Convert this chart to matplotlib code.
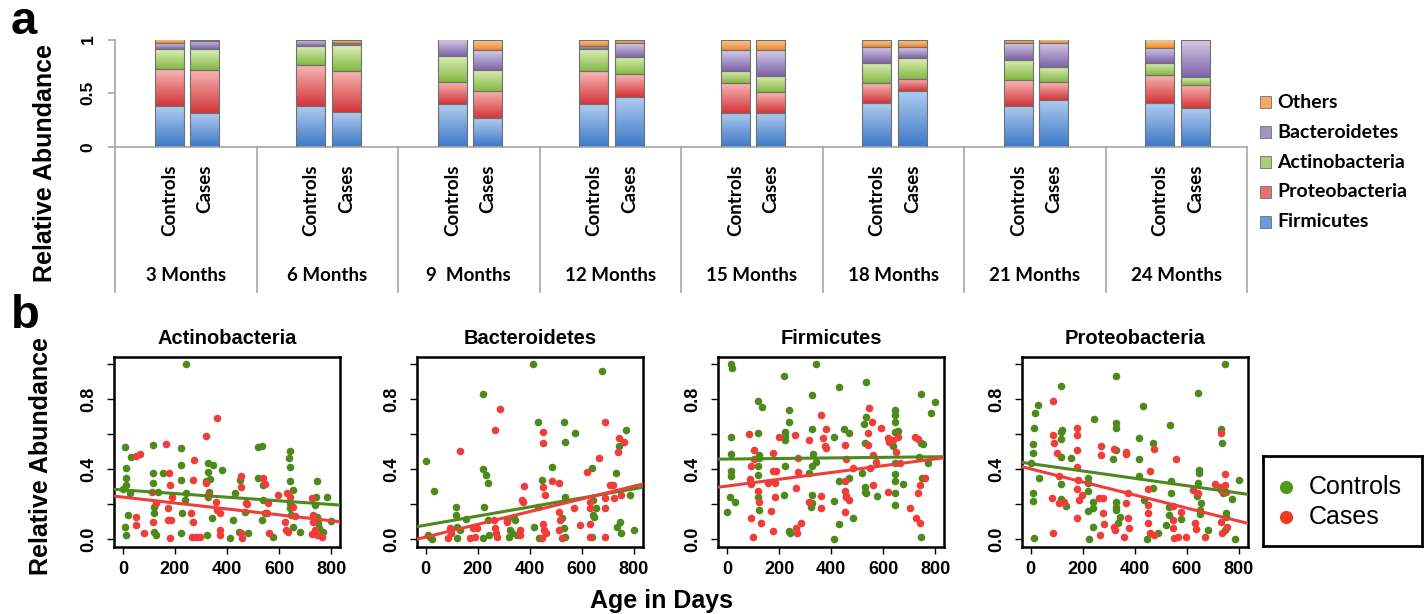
import numpy as np
import matplotlib
matplotlib.use("Agg")
import matplotlib.pyplot as plt
from matplotlib.colors import LinearSegmentedColormap
from matplotlib.patches import Rectangle

plt.rcParams["font.family"] = ["Liberation Sans", "DejaVu Sans"]

# ---------------- panel a data ----------------
months = ["3 Months", "6 Months", "9  Months", "12 Months",
          "15 Months", "18 Months", "21 Months", "24 Months"]
groups = ["Controls", "Cases"]
# order per month: Controls, Cases
firmicutes = [0.38, 0.31, 0.38, 0.32, 0.40, 0.265, 0.40, 0.465,
              0.318, 0.318, 0.405, 0.515, 0.383, 0.44, 0.405, 0.36]
proteobacteria = [0.345, 0.405, 0.38, 0.39, 0.20, 0.255, 0.305, 0.21,
                  0.272, 0.192, 0.185, 0.12, 0.237, 0.16, 0.265, 0.22]
actinobacteria = [0.185, 0.195, 0.18, 0.24, 0.25, 0.20, 0.205, 0.165,
                  0.115, 0.15, 0.19, 0.195, 0.19, 0.14, 0.115, 0.07]
bacteroidetes = [0.055, 0.08, 0.055, 0.02, 0.15, 0.18, 0.03, 0.13,
                 0.195, 0.24, 0.15, 0.10, 0.16, 0.225, 0.14, 0.35]
others = [0.035, 0.01, 0.005, 0.03, 0.0, 0.10, 0.06, 0.03,
          0.10, 0.10, 0.07, 0.07, 0.03, 0.035, 0.075, 0.0]

# ---------------- panel b data (day, relative abundance) ----------------
act_ctrl_day = [10, 13, 13, 13, 0, 32, 26, 10, 13, 19, 116, 116, 116, 118, 118, 118, 126, 135, 154,
                225, 225, 225, 229, 225, 241, 241, 238, 321, 327, 327, 336, 331, 327, 324, 347, 344,
                379, 411, 424, 430, 449, 447, 470, 482, 520, 535, 520, 539, 539, 546, 535, 578,
                642, 639, 642, 642, 655, 642, 642, 644, 655, 680, 745, 742, 738, 745, 751, 755,
                783, 770, 800]
act_ctrl_val = [.524, .406, .349, .31, .286, .469, .267, .072, .025, .139, .539, .377, .32, .187, .149,
                .044, .025, .272, .381, .52, .425, .339, .152, .034, 1.0, .267, .225, .33, .387, .434,
                .343, .272, .244, .025, .425, .12, .396, .006, .11, .263, .339, .044, .158, .034,
                .524, .53, .349, .31, .225, .149, .11, .011, .505, .463, .415, .33, .282, .21, .177,
                .139, .072, .044, .33, .24, .196, .13, .091, .063, .244, .044, .107]
act_case_day = [51, 64, 51, 51, 80, 113, 116, 128, 167, 177, 180, 173, 173, 180, 190, 186, 272, 270,
                263, 270, 267, 282, 295, 321, 321, 327, 360, 357, 362, 372, 372, 372, 452, 452, 452,
                456, 472, 478, 539, 546, 559, 552, 562, 594, 623, 627, 629, 642, 655, 661, 633, 725,
                732, 732, 725, 745, 764, 738]
act_case_val = [.476, .488, .13, .082, .034, .272, .101, .206, .545, .381, .31, .177, .11, .006, .244,
                .11, .45, .339, .149, .101, .015, .015, .011, .59, .32, .253, .691, .215, .168, .149,
                .053, .025, .362, .30, .034, .006, .206, .202, .349, .316, .206, .149, .034, .253,
                .101, .053, .267, .244, .187, .133, .044, .234, .139, .101, .029, .025, .011, .053]

bac_ctrl_day = [0, 32, 17, 23, 10, 117, 117, 119, 119, 132, 155, 220, 222, 225, 234, 239, 222, 239,
                242, 312, 325, 331, 338, 344, 351, 322, 412, 415, 430, 430, 434, 447, 485, 533, 537,
                537, 524, 533, 537, 575, 639, 642, 642, 646, 639, 655, 678, 733, 742, 745, 736, 749,
                770, 785, 800]
bac_ctrl_val = [.448, .278, .015, .0, .025, .187, .139, .072, .006, .053, .116, .83, .402, .187, .368,
                .32, .006, .11, .025, .11, .053, .034, .12, .11, .025, .015, 1.0, .072, .667, .183,
                .006, .339, .415, .667, .558, .244, .12, .063, .015, .606, .406, .225, .139, .13,
                .011, .177, .958, .377, .53, .101, .072, .034, .625, .253, .053]
bac_case_day = [94, 87, 96, 132, 184, 196, 171, 190, 267, 286, 261, 267, 271, 273, 312, 372, 379, 376,
                361, 363, 453, 453, 460, 451, 451, 456, 464, 447, 485, 511, 511, 517, 511, 524, 569,
                595, 620, 633, 630, 633, 633, 665, 691, 708, 721, 691, 691, 691, 738, 742, 761, 751,
                725]
bac_case_val = [.063, .006, .034, .505, .067, .067, .006, .015, .625, .745, .11, .063, .034, .015, .101,
                .225, .307, .215, .053, .025, .615, .549, .253, .301, .088, .053, .034, .006, .33, .32,
                .158, .11, .053, .006, .177, .082, .387, .177, .215, .088, .011, .463, .672, .31, .31,
                .177, .234, .011, .501, .577, .558, .253, .234]

fir_ctrl_day = [13, 18, 15, 15, 15, 15, 12, 32, 0, 118, 134, 118, 122, 122, 118, 118, 118, 122, 220,
                239, 239, 224, 224, 224, 224, 220, 238, 241, 326, 342, 326, 329, 326, 316, 326, 326,
                322, 342, 431, 449, 412, 467, 431, 412, 429, 412, 483, 467, 534, 534, 524, 528, 518,
                529, 529, 534, 574, 643, 643, 643, 643, 636, 643, 646, 643, 643, 643, 655, 677, 745,
                745, 751, 736, 749, 745, 770, 781, 797]
fir_ctrl_val = [1.0, .977, .583, .488, .392, .362, .244, .215, .158, .792, .754, .606, .482, .463, .421,
                .368, .244, .168, .93, .739, .669, .61, .587, .568, .421, .253, .05, .034, .825, 1.0,
                .63, .488, .421, .377, .253, .206, .183, .444, .867, .629, .583, .606, .33, .221, .088,
                .0, .12, .352, .897, .697, .659, .552, .377, .301, .272, .263, .248, .739, .71, .672,
                .615, .53, .434, .373, .333, .263, .196, .619, .314, .829, .549, .545, .472, .352,
                .015, .438, .72, .781]
fir_case_day = [83, 92, 88, 92, 92, 99, 105, 105, 118, 122, 131, 156, 169, 175, 178, 188, 182, 182, 178,
                198, 259, 271, 271, 265, 265, 268, 284, 316, 316, 361, 367, 380, 374, 378, 361, 361,
                454, 457, 451, 451, 457, 457, 467, 454, 485, 544, 540, 557, 560, 540, 547, 560, 572,
                591, 617, 623, 636, 617, 655, 649, 662, 703, 723, 732, 726, 732, 742, 742, 759]
fir_case_val = [.602, .419, .345, .314, .12, .015, .507, .457, .278, .215, .095, .324, .164, .491, .392,
                .392, .324, .244, .05, .583, .596, .463, .383, .291, .067, .034, .095, .568, .215, .71,
                .577, .629, .53, .52, .248, .177, .539, .457, .33, .278, .248, .244, .225, .158, .406,
                .752, .606, .667, .482, .539, .406, .31, .444, .634, .577, .558, .564, .272, .583,
                .501, .438, .177, .583, .571, .12, .263, .095, .31, .349]

pro_ctrl_day = [0, 10, 10, 10, 10, 13, 19, 30, 32, 15, 116, 116, 116, 116, 120, 118, 118, 135, 154,
                221, 221, 221, 221, 225, 242, 241, 241, 241, 328, 328, 328, 315, 328, 328, 328, 328,
                344, 334, 415, 415, 415, 431, 435, 448, 469, 469, 489, 534, 540, 540, 531, 531, 521,
                576, 643, 646, 646, 643, 640, 656, 649, 649, 682, 730, 735, 740, 748, 752, 752, 746,
                772, 785, 800]
pro_ctrl_val = [.434, .267, .221, .491, .545, .634, .72, .768, .349, .01, .876, .615, .571, .469, .625,
                .316, .229, .19, .463, .349, .324, .278, .164, .002, .686, .215, .177, .072, .933,
                .663, .634, .457, .51, .215, .187, .168, .13, .091, .581, .461, .362, .758, .225, .0,
                .549, .291, .034, .653, .33, .263, .187, .139, .082, .114, .834, .396, .377, .324,
                .248, .21, .168, .143, .053, .629, .549, .267, 1.0, .149, .13, .053, .23, .0, .339]
pro_case_day = [84, 87, 87, 90, 87, 100, 109, 109, 129, 180, 180, 180, 177, 183, 177, 177, 186, 199,
                264, 270, 270, 277, 280, 267, 283, 322, 322, 325, 367, 367, 367, 373, 376, 360, 379,
                457, 473, 453, 453, 453, 453, 457, 473, 560, 547, 547, 547, 550, 566, 576, 598, 624,
                630, 637, 643, 669, 707, 727, 730, 733, 730, 735, 746, 746, 752, 756]
pro_case_val = [.238, .787, .596, .552, .034, .495, .362, .21, .215, .634, .596, .51, .41, .339, .286,
                .12, .225, .253, .234, .53, .482, .234, .149, .025, .088, .514, .072, .053, .501, .488,
                .206, .263, .12, .011, .063, .392, .514, .286, .196, .149, .095, .034, .025, .457, .19,
                .11, .067, .006, .015, .158, .015, .282, .095, .057, .267, .011, .314, .301, .606,
                .282, .101, .038, .373, .31, .272, .072]

# fitted trend lines: value at day 0 and day 800
act_fit = [[0.282, 0.199], [0.241, 0.106]]
bac_fit = [[0.081, 0.288], [0.013, 0.303]]
fir_fit = [[0.458, 0.471], [0.304, 0.459]]
pro_fit = [[0.432, 0.264], [0.402, 0.104]]

W, H = 1427, 614


def rect(l, t, r, b):
    return [l / W, 1 - b / H, (r - l) / W, (b - t) / H]


fig = plt.figure(figsize=(W / 100, H / 100), dpi=100)

# ---------------- panel a ----------------
phyla = ["Firmicutes", "Proteobacteria", "Actinobacteria", "Bacteroidetes", "Others"]
phyla_vals = [firmicutes, proteobacteria, actinobacteria, bacteroidetes, others]
grad_cols = [("#3C79C6", "#AFCBF0"), ("#D3363A", "#F7B7B5"), ("#86B843", "#DCEFB7"),
             ("#7E64A8", "#D6CCE8"), ("#EF8A2E", "#FBD0A2")]
mid_cols = ["#6A9BDB", "#E6706E", "#A9CF72", "#A491C6", "#F5A862"]
edge = "#707070"
grey = "#A6A6A6"

ax = fig.add_axes(rect(115, 39.5, 1247, 146.7))
pos = []
for i in range(len(months)):
    pos += [i + 0.385, i + 0.636]
pos = np.array(pos)
w = 0.205
bottom = np.zeros(len(pos))
grad = np.linspace(0, 1, 64).reshape(-1, 1)
for name, vals, (c0, c1) in zip(phyla, phyla_vals, grad_cols):
    vals = np.array(vals)
    cmap = LinearSegmentedColormap.from_list(name, [c0, c1])
    for x, b, h in zip(pos, bottom, vals):
        if h <= 0:
            continue
        ax.imshow(grad, extent=(x - w / 2, x + w / 2, b, b + h), origin="lower",
                  cmap=cmap, aspect="auto", interpolation="bilinear", zorder=2)
    ax.bar(pos, np.where(vals > 0, vals, np.nan), w, bottom=bottom, fill=False,
           edgecolor=edge, linewidth=0.8, zorder=3)
    bottom += vals

ax.set_xlim(0, len(months))
ax.set_ylim(0, 1)
for s in ["top", "right"]:
    ax.spines[s].set_visible(False)
for s in ["left", "bottom"]:
    ax.spines[s].set_color(grey)
    ax.spines[s].set_linewidth(1.2)
ax.set_xticks([])
ax.set_yticks([0, 0.5, 1])
ax.set_yticklabels(["0", "0.5", "1"], rotation=90, va="center", fontsize=12.5, fontweight="bold")
ax.tick_params(axis="y", color=grey, length=5, width=1.2, pad=9)

for i in range(len(months) + 1):
    ax.plot([i, i], [0, -1.355], color=grey, lw=1.2, clip_on=False)
for i, m in enumerate(months):
    for k, g in enumerate(groups):
        ax.text(pos[2 * i + k], -0.165, g, rotation=90, ha="center", va="top",
                fontsize=13.5, fontweight="bold", family=["Lato", "DejaVu Sans"])
    ax.text(i + 0.5, -1.205, m, ha="center", va="center", fontsize=13.5,
            fontweight="bold", family=["Lato", "DejaVu Sans"])

# legend a
for j, (name, col) in enumerate(zip(phyla[::-1], mid_cols[::-1])):
    yc = 102 + 30 * j
    fig.patches.append(Rectangle((1260 / W, 1 - (yc + 6) / H), 11 / W, 12 / H,
                                 transform=fig.transFigure, facecolor=col,
                                 edgecolor=edge, linewidth=0.6))
    fig.text(1277 / W, 1 - yc / H, name, ha="left", va="center", fontsize=14,
             fontweight="bold", family=["Lato", "DejaVu Sans"])

fig.text(45 / W, 1 - 163 / H, "Relative Abundance", rotation=90, ha="center",
         va="center", fontsize=18, fontweight="bold")
fig.text(24 / W, 1 - 22 / H, "a", ha="center", va="center", fontsize=34, fontweight="bold")

# ---------------- panel b ----------------
green = "#4D8A1C"
red = "#EF3E3A"
panels = [
    ("Actinobacteria", act_ctrl_day, act_ctrl_val, act_case_day, act_case_val, act_fit),
    ("Bacteroidetes", bac_ctrl_day, bac_ctrl_val, bac_case_day, bac_case_val, bac_fit),
    ("Firmicutes", fir_ctrl_day, fir_ctrl_val, fir_case_day, fir_case_val, fir_fit),
    ("Proteobacteria", pro_ctrl_day, pro_ctrl_val, pro_case_day, pro_case_val, pro_fit),
]
lefts = [114, 416.7, 718.3, 1021.7]
for left, (title, cd, cv, kd, kv, fit) in zip(lefts, panels):
    bx = fig.add_axes(rect(left, 356.7, left + 226, 546.7))
    bx.scatter(cd, cv, s=30, color=green, linewidths=0, zorder=2)
    bx.scatter(kd, kv, s=30, color=red, linewidths=0, zorder=2)
    bx.axline((0, fit[0][0]), (800, fit[0][1]), color=green, lw=2.2, zorder=3)
    bx.axline((0, fit[1][0]), (800, fit[1][1]), color=red, lw=2.2, zorder=3)
    bx.set_xlim(-34, 834)
    bx.set_ylim(-0.042, 1.042)
    bx.set_xticks([0, 200, 400, 600, 800])
    bx.set_xticklabels(["0", "200", "400", "600", "800"], fontsize=13, fontweight="bold")
    bx.set_yticks([0, 0.2, 0.4, 0.6, 0.8, 1.0])
    bx.set_yticklabels(["0.0", "", "0.4", "", "0.8", ""], rotation=90, va="center",
                       fontsize=13, fontweight="bold")
    bx.tick_params(axis="x", length=5, width=1, pad=5)
    bx.tick_params(axis="y", length=5, width=1, pad=7)
    for s in bx.spines.values():
        s.set_linewidth(1.8)
    bx.set_title(title, fontsize=14.5, fontweight="bold", pad=9)

fig.text(41 / W, 1 - 456 / H, "Relative Abundance", rotation=90, ha="center",
         va="center", fontsize=18, fontweight="bold")
fig.text(661 / W, 1 - 601 / H, "Age in Days", ha="center", va="center",
         fontsize=18, fontweight="bold")
fig.text(25 / W, 1 - 316 / H, "b", ha="center", va="center", fontsize=34, fontweight="bold")

# legend b
lg = fig.add_axes(rect(1263, 456, 1422, 546))
lg.set_xticks([])
lg.set_yticks([])
for s in lg.spines.values():
    s.set_linewidth(2)
lg.set_xlim(0, 1)
lg.set_ylim(0, 1)
lg.scatter([0.145], [0.656], s=90, color="#4C9A16", linewidths=0)
lg.scatter([0.145], [0.322], s=90, color="#F23A1E", linewidths=0)
lg.text(0.29, 0.656, "Controls", ha="left", va="center", fontsize=18)
lg.text(0.29, 0.322, "Cases", ha="left", va="center", fontsize=18)

fig.savefig("out.png", dpi=100, facecolor="white")
